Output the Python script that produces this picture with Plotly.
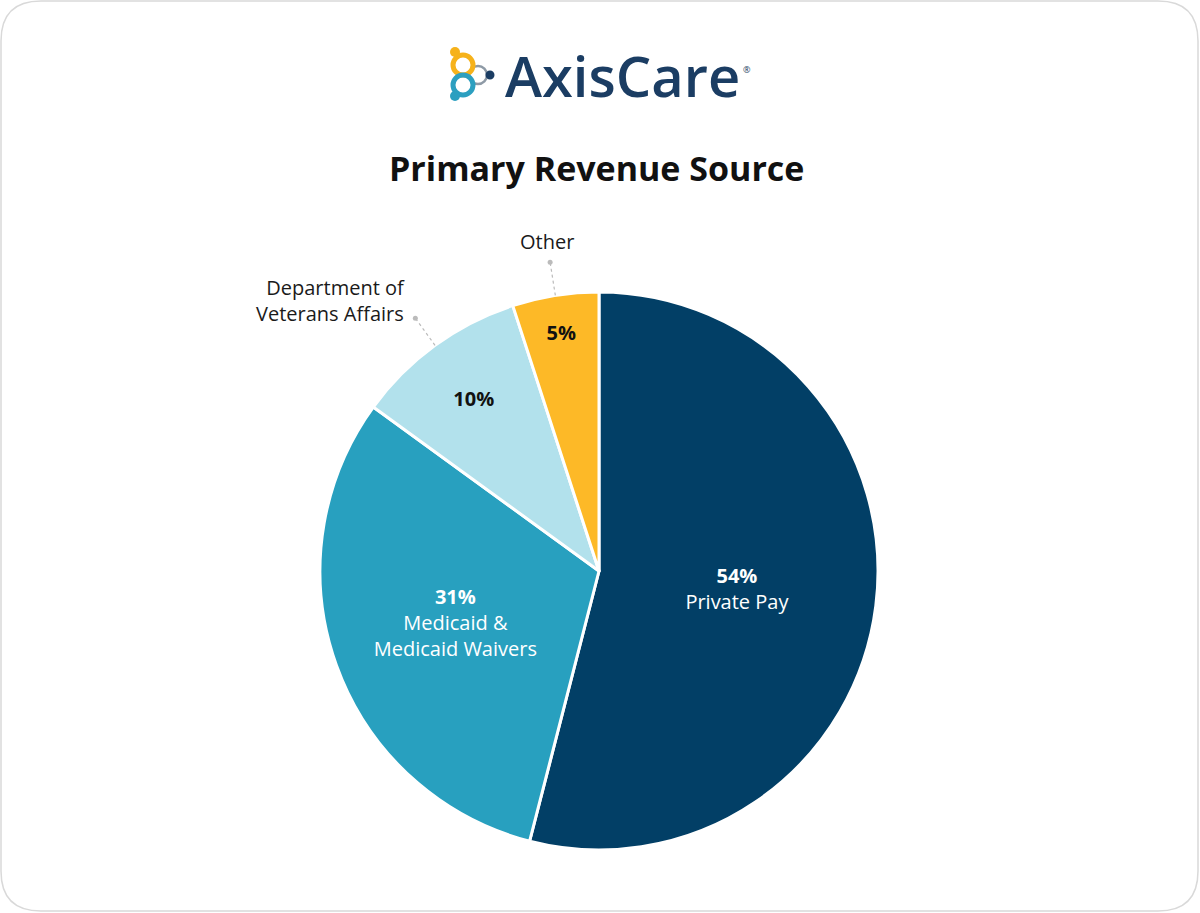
import math
import plotly.graph_objects as go

# ---- data ----
labels = ["Private Pay", "Medicaid & Medicaid Waivers", "Department of Veterans Affairs", "Other"]
values = [54, 31, 10, 5]
inside_texts = ["<b>54%</b><br>Private Pay", "<b>31%</b><br>Medicaid &<br>Medicaid Waivers", "<b>10%</b>", "<b>5%</b>"]
outside_labels = {2: "Department of<br>Veterans Affairs", 3: "Other"}
colors = ["#023F66", "#28A0BF", "#B2E1EC", "#FDB927"]
text_colors = ["white", "white", "#111111", "#111111"]

W, H = 1200, 913
FONT = "Open Sans"

# pie geometry (pixels)
cx, cy, R = 599, 571, 279

def px2paper(x, y):
    return x / W, 1 - y / H

fig = go.Figure()
fig.add_trace(go.Pie(
    labels=labels, values=values, sort=False, direction="clockwise", rotation=0,
    marker=dict(colors=colors, line=dict(color="white", width=3)),
    text=inside_texts, textinfo="text", textposition="inside",
    insidetextorientation="horizontal",
    insidetextfont=dict(family=FONT, size=20, color=text_colors),
    hoverinfo="label+percent", showlegend=False,
    domain=dict(x=[(cx - R) / W, (cx + R) / W], y=[1 - (cy + R) / H, 1 - (cy - R) / H]),
))

shapes = []
annotations = []

# leader lines for outer labels
total = sum(values)
cum = 0
for i, v in enumerate(values):
    mid = (cum + v / 2) / total * 360
    cum += v
    if i in outside_labels:
        a = math.radians(mid)
        x0, y0 = cx + R * math.sin(a), cy - R * math.cos(a)
        x1, y1 = cx + R * 1.12 * math.sin(a), cy - R * 1.12 * math.cos(a)
        p0 = px2paper(x0, y0); p1 = px2paper(x1, y1)
        shapes.append(dict(type="line", xref="paper", yref="paper", x0=p0[0], y0=p0[1], x1=p1[0], y1=p1[1],
                           line=dict(color="#BBBBBB", width=1.2, dash="dot")))
        shapes.append(dict(type="circle", xref="paper", yref="paper",
                           x0=(x1 - 2.5) / W, x1=(x1 + 2.5) / W, y0=1 - (y1 + 2.5) / H, y1=1 - (y1 - 2.5) / H,
                           fillcolor="#BBBBBB", line=dict(width=0)))
        if i == 3:
            annotations.append(dict(text=outside_labels[i], x=x1 / W - 0.003, y=1 - (y1 - 5) / H,
                                    xref="paper", yref="paper", xanchor="center", yanchor="bottom",
                                    showarrow=False, font=dict(family=FONT, size=20, color="#1a1a1a")))
        else:
            annotations.append(dict(text=outside_labels[i], x=(x1 - 8) / W, y=1 - (y1 + 11) / H,
                                    xref="paper", yref="paper", xanchor="right", yanchor="bottom", align="right",
                                    showarrow=False, font=dict(family=FONT, size=20, color="#1a1a1a")))

# title
annotations.append(dict(text="<b>Primary Revenue Source</b>", x=0.497, y=1 - 168 / H, xref="paper", yref="paper",
                        xanchor="center", yanchor="middle", showarrow=False,
                        font=dict(family=FONT, size=34, color="#111111")))

# logo text
annotations.append(dict(text="AxisCare", x=622 / W, y=1 - 75 / H, xref="paper", yref="paper",
                        xanchor="center", yanchor="middle", showarrow=False,
                        font=dict(family=FONT, size=56, color="#1B3D63", weight=600)))
annotations.append(dict(text="®", x=747 / W, y=1 - 69 / H, xref="paper", yref="paper",
                        xanchor="center", yanchor="middle", showarrow=False,
                        font=dict(family=FONT, size=9, color="#1B3D63")))

def circ(x, y, r, fill=None, line=None, lw=0):
    return dict(type="circle", xref="paper", yref="paper",
                x0=(x - r) / W, x1=(x + r) / W, y0=1 - (y + r) / H, y1=1 - (y - r) / H,
                fillcolor=fill if fill else "rgba(0,0,0,0)",
                line=dict(color=line if line else "rgba(0,0,0,0)", width=lw))

# logo icon
shapes += [
    circ(478, 75, 9, None, "#8E9AA6", 2.5),
    circ(463, 65, 10, None, "#F6B21B", 5),
    circ(463, 85, 10, None, "#2C9FC0", 5),
    circ(455, 52, 5, "#F6B21B"),
    circ(455, 96, 5, "#2C9FC0"),
    circ(490, 75, 4.5, "#1B3D63"),
]

# rounded border
rr, x0b, y0b, x1b, y1b = 40, 1, 1, 1198, 911
path = (f"M {x0b+rr},{y0b} L {x1b-rr},{y0b} Q {x1b},{y0b} {x1b},{y0b+rr} "
        f"L {x1b},{y1b-rr} Q {x1b},{y1b} {x1b-rr},{y1b} L {x0b+rr},{y1b} "
        f"Q {x0b},{y1b} {x0b},{y1b-rr} L {x0b},{y0b+rr} Q {x0b},{y0b} {x0b+rr},{y0b} Z")
fig.add_trace(go.Scatter(x=[0, W], y=[0, H], mode="markers", marker=dict(opacity=0), showlegend=False,
                         hoverinfo="skip", xaxis="x", yaxis="y"))
shapes.append(dict(type="path", path=path, xref="x", yref="y", line=dict(color="#D9D9D9", width=1.5),
                   layer="below"))

fig.update_layout(
    width=W, height=H, margin=dict(l=0, r=0, t=0, b=0),
    paper_bgcolor="white", plot_bgcolor="rgba(0,0,0,0)",
    xaxis=dict(range=[0, W], visible=False, domain=[0, 1], fixedrange=True),
    yaxis=dict(range=[H, 0], visible=False, domain=[0, 1], fixedrange=True),
    shapes=shapes, annotations=annotations,
    font=dict(family=FONT),
)

fig.write_html("out.html")
